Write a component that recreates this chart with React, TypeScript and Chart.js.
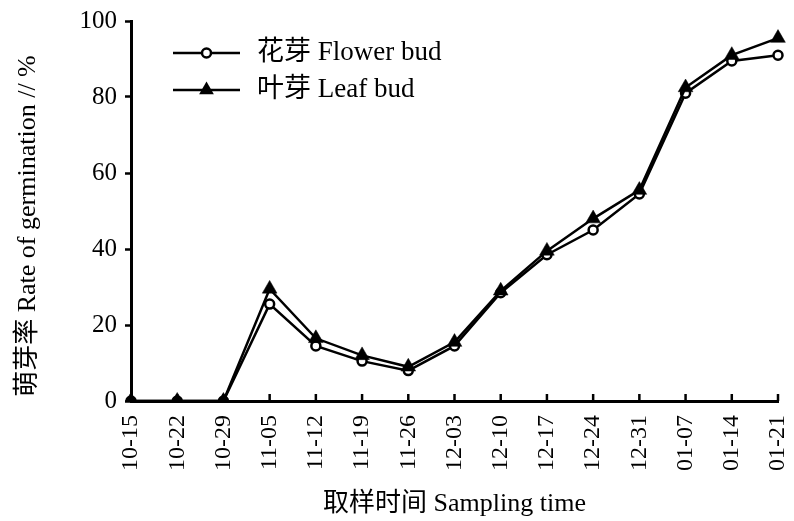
import React, { useEffect, useRef } from "react";
import { Chart, registerables } from "chart.js";

Chart.register(...registerables);

const categories = ["10-15", "10-22", "10-29", "11-05", "11-12", "11-19", "11-26", "12-03", "12-10", "12-17", "12-24", "12-31", "01-07", "01-14", "01-21"];
const flowerBud = [0, 0, 0, 25.5, 14.5, 10.5, 8, 14.5, 28.5, 38.5, 45, 54.5, 81, 89.5, 91];
const leafBud = [0, 0, 0, 29.5, 16.5, 12, 9, 15.5, 29, 39.5, 48, 55.5, 82.5, 91, 95.5];
const seriesLabels = ["花芽 Flower bud", "叶芽 Leaf bud"];
const xTitle = "取样时间 Sampling time";
const yTitle = "萌芽率 Rate of germination // %";

const FONT = "'Liberation Serif', 'Noto Sans CJK SC', serif";

const innerTicks = {
  id: "innerTicks",
  beforeDatasetsDraw(chart: any) {
    const ctx = chart.ctx;
    const x = chart.scales.x;
    const bottom = chart.chartArea.bottom;
    ctx.save();
    ctx.strokeStyle = "#000";
    ctx.lineWidth = 2.5;
    for (let i = 0; i < categories.length; i++) {
      const px = x.getPixelForTick(i);
      ctx.beginPath();
      ctx.moveTo(px, bottom);
      ctx.lineTo(px, bottom - 7);
      ctx.stroke();
    }
    ctx.restore();
  },
};

const yAxisTitle = {
  id: "yAxisTitle",
  afterDraw(chart: any) {
    const ctx = chart.ctx;
    const area = chart.chartArea;
    ctx.save();
    ctx.translate(area.left - 103, (area.top + area.bottom) / 2 + 15);
    ctx.rotate(-Math.PI / 2);
    ctx.fillStyle = "#000";
    ctx.font = `26px ${FONT}`;
    ctx.textAlign = "center";
    ctx.textBaseline = "middle";
    ctx.fillText(yTitle, 0, 0);
    ctx.restore();
  },
};

const lineLegend = {
  id: "lineLegend",
  afterDraw(chart: any) {
    const ctx = chart.ctx;
    const area = chart.chartArea;
    const x0 = area.left + 42;
    const x1 = area.left + 109;
    const xm = (x0 + x1) / 2;
    const ys = [area.top + 32, area.top + 69];
    ctx.save();
    chart.data.datasets.forEach((ds: any, i: number) => {
      const y = ys[i];
      ctx.strokeStyle = "#000";
      ctx.lineWidth = 2.5;
      ctx.beginPath();
      ctx.moveTo(x0, y);
      ctx.lineTo(x1, y);
      ctx.stroke();
      ctx.beginPath();
      if (ds.pointStyle === "circle") {
        ctx.arc(xm, y, 4.5, 0, Math.PI * 2);
        ctx.fillStyle = "#fff";
        ctx.fill();
        ctx.lineWidth = 2.5;
        ctx.stroke();
      } else {
        const r = 8.5;
        ctx.moveTo(xm, y - r);
        ctx.lineTo(xm + r * Math.sin(Math.PI / 3), y + r / 2);
        ctx.lineTo(xm - r * Math.sin(Math.PI / 3), y + r / 2);
        ctx.closePath();
        ctx.fillStyle = "#000";
        ctx.fill();
      }
      ctx.fillStyle = "#000";
      ctx.font = `27px ${FONT}`;
      ctx.textBaseline = "middle";
      ctx.textAlign = "left";
      ctx.fillText(ds.label, x1 + 17, y);
    });
    ctx.restore();
  },
};

export default function App() {
  const ref = useRef<HTMLCanvasElement | null>(null);
  useEffect(() => {
    document.body.style.margin = "0";
    const canvas = ref.current;
    if (!canvas) return;
    const chart = new Chart(canvas, {
      type: "line",
      data: {
        labels: categories,
        datasets: [
          {
            label: seriesLabels[0],
            data: flowerBud,
            order: 1,
            borderColor: "#000",
            borderWidth: 2.5,
            pointStyle: "circle",
            pointRadius: 4.5,
            pointBorderWidth: 2.5,
            pointBackgroundColor: "#fff",
            pointBorderColor: "#000",
            fill: false,
            tension: 0,
          },
          {
            label: seriesLabels[1],
            data: leafBud,
            order: 0,
            borderColor: "#000",
            borderWidth: 2.5,
            pointStyle: "triangle",
            pointRadius: 8.5,
            pointBorderWidth: 0.5,
            pointBackgroundColor: "#000",
            pointBorderColor: "#000",
            fill: false,
            tension: 0,
          },
        ],
      },
      options: {
        animation: false,
        responsive: false,
        layout: { padding: { top: 21, right: 16, left: 0, bottom: 0 } },
        plugins: { legend: { display: false }, tooltip: { enabled: false } },
        scales: {
          x: {
            type: "category",
            offset: false,
            afterFit: (s: any) => { s.height = 120; s.paddingLeft = 0; s.paddingRight = 0; },
            border: { display: true, color: "#000", width: 3 },
            grid: { display: true, drawOnChartArea: false, drawTicks: false },
            ticks: {
              autoSkip: false,
              minRotation: 90,
              maxRotation: 90,
              padding: 14,
              color: "#000",
              font: { family: FONT, size: 24 },
            },
            title: {
              display: true,
              text: xTitle,
              color: "#000",
              font: { family: FONT, size: 26 },
              padding: { top: 0, bottom: 1 },
            },
          },
          y: {
            min: 0,
            max: 100,
            afterFit: (s: any) => { s.width = 131; s.paddingTop = 0; s.paddingBottom = 0; },
            border: { display: true, color: "#000", width: 3 },
            grid: { display: true, drawOnChartArea: false, drawTicks: true, tickLength: 6, tickWidth: 2.5, tickColor: "#000" },
            ticks: {
              stepSize: 20,
              padding: 8,
              color: "#000",
              font: { family: FONT, size: 25 },
            },
            title: { display: false },
          },
        },
      },
      plugins: [innerTicks, lineLegend, yAxisTitle],
    });
    return () => chart.destroy();
  }, []);
  return (
    <div style={{ width: 794, height: 521 }}>
      <canvas ref={ref} width={794} height={521} />
    </div>
  );
}
